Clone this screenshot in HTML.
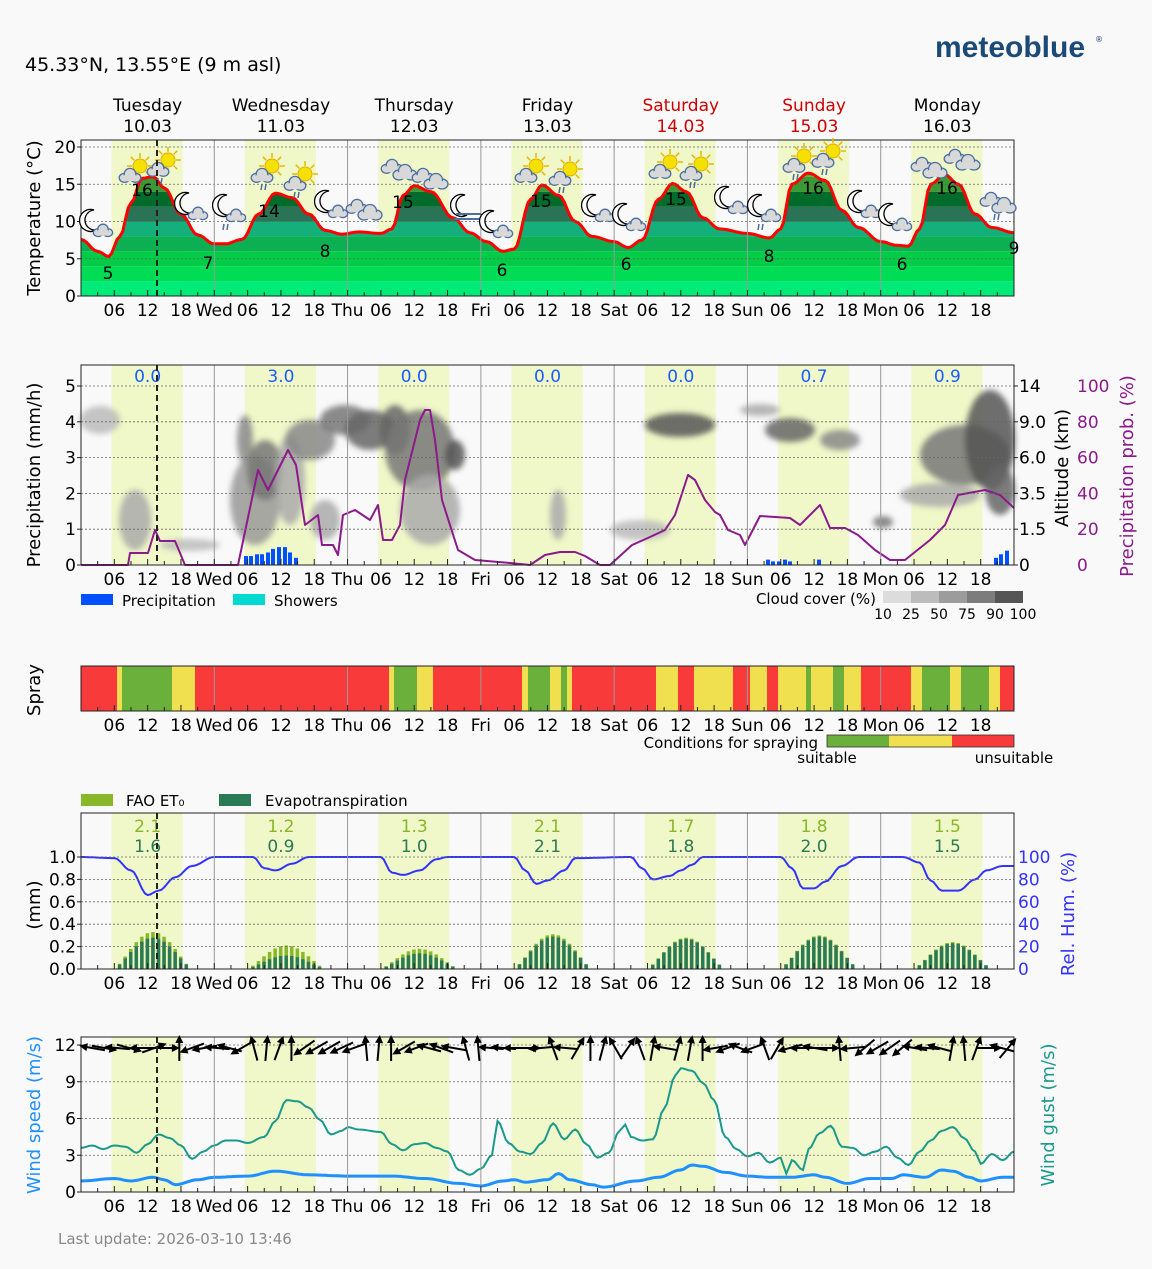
<!DOCTYPE html>
<html><head><meta charset="utf-8"><style>
html,body{margin:0;padding:0;background:#f9f9f9;}
svg{display:block;font-family:"DejaVu Sans","Liberation Sans",sans-serif;}
</style></head><body>
<svg id="s" width="1152" height="1269" xmlns="http://www.w3.org/2000/svg"></svg>
<script>
const S=document.getElementById('s');let o='';
const X0=81,X1=1014,W=X1-X0;const X=h=>X0+h*W/168;
function interp(pts,h){for(let i=0;i<pts.length-1;i++){if(h>=pts[i][0]&&h<=pts[i+1][0]){const t=(h-pts[i][0])/(pts[i+1][0]-pts[i][0]);const s=(1-Math.cos(Math.PI*t))/2;return pts[i][1]+(pts[i+1][1]-pts[i][1])*s;}}return pts[pts.length-1][1];}
function path(pts,yf,step){let d='';for(let h=0;h<=168;h+=step){d+=(h?'L':'M')+X(h).toFixed(1)+','+yf(interp(pts,h)).toFixed(1);}return d;}
function txt(x,y,t,sz,fill,anchor,extra){o+=`<text x="${x}" y="${y}" font-size="${sz}" fill="${fill||'#000'}" text-anchor="${anchor||'start'}" ${extra||''}>${t}</text>`;}
const days=[['Tuesday','10.03'],['Wednesday','11.03'],['Thursday','12.03'],['Friday','13.03'],['Saturday','14.03'],['Sunday','15.03'],['Monday','16.03']];
const dn=['','Wed','Thu','Fri','Sat','Sun','Mon'];
txt(25,71,'45.33°N, 13.55°E (9 m asl)',19);
txt(935,57,'meteoblue',30,'#1c4a78','start','font-weight="bold" font-family="Liberation Sans,sans-serif"');
txt(1095,42,'®',8,'#1c4a78');
days.forEach((d,i)=>{const c=X(i*24+12);const col=(i==4||i==5)?'#d00000':'#000';txt(c,111,d[0],17,col,'middle');txt(c,132,d[1],17,col,'middle');});
function panel(y0,y1){
 o+=`<rect x="${X0}" y="${y0}" width="${W}" height="${y1-y0}" fill="#f9f9f9"/>`;
 for(let d=0;d<7;d++){o+=`<rect x="${X(d*24+5.5)}" y="${y0}" width="${X(18.3)-X(5.5)}" height="${y1-y0}" fill="#f0f7c8"/>`;}
}
function frame(y0,y1,grid){
 grid.forEach(g=>o+=`<line x1="${X0}" x2="${X1}" y1="${g}" y2="${g}" stroke="#666" stroke-width="0.8" stroke-dasharray="2,2"/>`);
 for(let d=1;d<7;d++)o+=`<line x1="${X(d*24)}" x2="${X(d*24)}" y1="${y0}" y2="${y1}" stroke="#999" stroke-width="1"/>`;
 o+=`<rect x="${X0}" y="${y0}" width="${W}" height="${y1-y0}" fill="none" stroke="#222" stroke-width="1"/>`;
 for(let h=3;h<168;h+=3){o+=`<line x1="${X(h)}" x2="${X(h)}" y1="${y1}" y2="${y1-(h%6?4:6)}" stroke="#222"/>`;}
 for(let h=6;h<168;h+=6){const d=h%24==0;txt(X(h),y1+20,d?dn[h/24]:String(h%24).padStart(2,'0'),17,'#000','middle');}
}
function nowline(y0,y1){o+=`<line x1="157" x2="157" y1="${y0}" y2="${y1}" stroke="#222" stroke-width="2" stroke-dasharray="6,4"/>`;}
function rot(x,y,t,sz,col){o+=`<text x="${x}" y="${y}" font-size="${sz}" fill="${col||'#000'}" text-anchor="middle" transform="rotate(-90 ${x} ${y})">${t}</text>`;}
// ===== Temperature
const TY=t=>296-t*7.45;
panel(140,296);
const tp=[[0,7.6],[3,6],[5,5.3],[7,8],[9,12.5],[11,15.8],[13,16],[15,14.5],[18,11],[21,8.2],[24,7],[26,7],[29,7.6],[32,11],[35,13.8],[38,13.2],[41,11],[44,8.8],[47,8.3],[50,8.6],[54,8.4],[56,9],[58,13.5],[60,14.8],[63,14],[67,10.5],[70,8.5],[73,7.3],[76,6],[78,6.3],[81,13],[83,14.9],[86,13.5],[89,10],[92,8],[96,7.3],[98.5,6.5],[101,7.5],[104,13],[106.5,15.1],[109,14],[112,10.5],[115,9],[120,8.4],[124,7.8],[126,9],[128,15],[131,16.5],[134,15.5],[137,11.5],[140,9.2],[144,7.3],[147,6.8],[149,6.7],[151,9],[153,15],[155.5,16.3],[158,15],[161,11],[164,9.2],[168,8.5]];
const td=path(tp,TY,0.5);
o+=`<clipPath id="tc"><path d="${td}L${X1},296L${X0},296Z"/></clipPath><g clip-path="url(#tc)">`;
const tb=[[0,2,'#00ea78'],[2,4,'#00dd55'],[4,6,'#00cc48'],[6,8,'#0cb052'],[8,10,'#14b07c'],[10,12,'#2b7356'],[12,14,'#006c2c'],[14,16,'#3a9a34'],[16,20,'#5aaa30']];
tb.forEach(b=>o+=`<rect x="${X0}" y="${TY(b[1])}" width="${W}" height="${TY(b[0])-TY(b[1])}" fill="${b[2]}"/>`);
o+=`</g><path d="${td}" fill="none" stroke="#f00" stroke-width="3"/>`;
frame(140,296,[TY(5),TY(10),TY(15),TY(20)]);
[[0,TY(0)],[5,TY(5)],[10,TY(10)],[15,TY(15)],[20,TY(20)]].forEach(a=>{txt(76,a[1]+6,a[0],17,'#000','end');o+=`<line x1="77" x2="81" y1="${a[1]}" y2="${a[1]}" stroke="#222"/>`;});
rot(40,218,'Temperature (°C)',18);
[[108,279,5],[142,196,16],[208,269,7],[269,217,14],[325,257,8],[403,208,15],[502,276,6],[541,207,15],[626,270,6],[676,205,15],[769,262,8],[813,194,16],[902,270,6],[947,194,16],[1014,254,9]].forEach(a=>txt(a[0],a[1],a[2],17,'#000','middle'));
function sun(x,y){o+=`<g stroke="#e8b800" stroke-width="1.5">`;for(let a=0;a<8;a++){const r=a*Math.PI/4;o+=`<line x1="${x+Math.cos(r)*8}" y1="${y+Math.sin(r)*8}" x2="${x+Math.cos(r)*13}" y2="${y+Math.sin(r)*13}"/>`;}o+=`</g><circle cx="${x}" cy="${y}" r="7" fill="#f5e000" stroke="#e0b000"/>`;}
function cloud(x,y,s){s=s||1;o+=`<g fill="#d8d8d8" stroke="#4a6fa0" stroke-width="1.3"><ellipse cx="${x-6*s}" cy="${y+2*s}" rx="${6*s}" ry="${5*s}"/><ellipse cx="${x+6*s}" cy="${y+2*s}" rx="${6*s}" ry="${5*s}"/><circle cx="${x}" cy="${y-2*s}" r="${6.5*s}"/></g><ellipse cx="${x}" cy="${y+2*s}" rx="${9*s}" ry="${4*s}" fill="#d8d8d8"/>`;}
function moon(x,y){o+=`<path d="M${x+4},${y-11} A11,11 0 1,0 ${x+6},${y+9} A9,9 0 1,1 ${x+4},${y-11}Z" fill="#fff" stroke="#000" stroke-width="1.3"/>`;}
function rain(x,y){o+=`<line x1="${x-2}" y1="${y}" x2="${x-3}" y2="${y+6}" stroke="#4a6fa0" stroke-width="1.5"/><line x1="${x+2}" y1="${y}" x2="${x+1}" y2="${y+6}" stroke="#4a6fa0" stroke-width="1.5"/>`;}
const ic=[['m',95,225,0],['s',134,170,0],['s',162,164,1],['m',190,208,0],['m',228,210,1],['s',266,170,1],['s',299,178,1],['m',330,206,0],['c',365,207,0],['c',400,167,0],['c',431,176,0],['f',466,210,0],['m',495,226,0],['s',530,170,0],['s',564,173,1],['m',597,210,0],['m',628,219,0],['s',664,166,0],['s',695,168,1],['m',730,202,0],['m',763,210,1],['s',798,160,1],['s',827,155,1],['m',863,206,0],['m',894,219,0],['c',930,165,0],['c',963,157,0],['c',999,200,1]];
ic.forEach(c=>{if(c[0]=='m'){moon(c[1]-5,c[2]-4);cloud(c[1]+8,c[2]+6,0.8);}else if(c[0]=='s'){sun(c[1]+6,c[2]-4);cloud(c[1]-4,c[2]+6,0.9);}else if(c[0]=='c'){cloud(c[1]-8,c[2],0.9);cloud(c[1]+5,c[2]+6,1);}else{moon(c[1]-5,c[2]-4);o+=`<g stroke="#4a6fa0" stroke-width="2"><line x1="${c[1]-10}" x2="${c[1]+15}" y1="${c[2]+4}" y2="${c[2]+4}"/><line x1="${c[1]-12}" x2="${c[1]+15}" y1="${c[2]+9}" y2="${c[2]+9}"/></g>`;}if(c[3])rain(c[1]-2,c[2]+14);});
nowline(140,296);
// ===== Precip
const PY=v=>565-v*35.8;
panel(365,565);
o+=`<defs><filter id="bl" x="-20%" y="-20%" width="140%" height="140%"><feGaussianBlur stdDeviation="3"/></filter></defs><g filter="url(#bl)">`;
const bl=[[100,420,20,14,'#bbb'],[135,520,16,30,'#aaa'],[190,545,30,6,'#bbb'],[245,440,8,25,'#888'],[255,500,25,45,'#999'],[265,470,18,30,'#777'],[290,480,15,45,'#aaa'],[310,440,25,20,'#888'],[345,420,25,15,'#777'],[370,430,25,20,'#666'],[395,430,15,25,'#666'],[420,450,35,40,'#777'],[430,510,30,35,'#aaa'],[455,455,10,15,'#555'],[325,520,15,20,'#aaa'],[558,515,8,25,'#aaa'],[640,530,30,10,'#bbb'],[680,425,35,12,'#555'],[760,410,20,6,'#aaa'],[790,430,25,12,'#666'],[840,440,20,10,'#888'],[883,522,10,6,'#777'],[965,455,45,30,'#777'],[990,440,25,50,'#555'],[940,495,40,12,'#aaa'],[1000,490,15,25,'#666']];
bl.forEach(b=>o+=`<ellipse cx="${b[0]}" cy="${b[1]}" rx="${b[2]}" ry="${b[3]}" fill="${b[4]}" opacity="0.85"/>`);
o+=`</g>`;
[[246,0.25],[251,0.25],[257,0.3],[262,0.3],[268,0.35],[273,0.45],[279,0.5],[285,0.5],[290,0.35],[296,0.2],[768,0.15],[773,0.1],[779,0.1],[785,0.15],[790,0.1],[819,0.15],[996,0.2],[1001,0.3],[1007,0.4]].forEach(b=>o+=`<rect x="${b[0]-2}" y="${PY(b[1])}" width="4" height="${b[1]*35.8}" fill="#0050ff"/>`);
const ppx=[[81,565],[128,565],[130,553],[148,553],[155,530],[160,541],[175,541],[185,565],[238,565],[258,470],[268,490],[288,450],[296,465],[305,525],[318,515],[322,545],[333,545],[338,555],[343,515],[355,510],[370,520],[378,505],[383,540],[392,540],[400,525],[405,480],[420,420],[425,410],[430,410],[435,440],[442,500],[458,550],[475,560],[510,563],[530,565],[545,555],[560,552],[575,552],[585,556],[600,565],[610,565],[632,545],[650,537],[665,530],[675,515],[688,475],[695,480],[705,500],[715,512],[720,515],[728,530],[740,535],[745,545],[760,516],[790,518],[800,525],[820,505],[830,528],[845,528],[858,535],[875,550],[890,560],[905,560],[915,552],[930,540],[945,525],[958,495],[985,490],[1000,495],[1014,508]];
let pd='';ppx.forEach((p,i)=>pd+=(i?'L':'M')+p[0]+','+p[1]);
o+=`<path d="${pd}" fill="none" stroke="#8b1a8b" stroke-width="2" stroke-linejoin="round"/>`;
frame(365,565,[PY(1),PY(2),PY(3),PY(4),PY(5)]);
for(let v=0;v<=5;v++){txt(76,PY(v)+6,v,17,'#000','end');o+=`<line x1="77" x2="81" y1="${PY(v)}" y2="${PY(v)}" stroke="#222"/>`;}
['0','1.5','3.5','6.0','9.0','14'].forEach((t,i)=>{txt(1019,PY(i)+6,t,17);o+=`<line x1="1014" x2="1018" y1="${PY(i)}" y2="${PY(i)}" stroke="#222"/>`;});
[0,20,40,60,80,100].forEach((t,i)=>txt(1077,PY(i)+6,t,17,'#8b1a8b'));
rot(40,475,'Precipitation (mm/h)',18);rot(1068,468,'Altitude (km)',18);rot(1133,476,'Precipitation prob. (%)',18,'#8b1a8b');
['0.0','3.0','0.0','0.0','0.0','0.7','0.9'].forEach((t,i)=>txt(X(i*24+12),382,t,17,'#1a5cff','middle'));
nowline(365,565);
o+=`<rect x="81" y="594" width="32" height="11" fill="#0050ff"/>`;txt(122,606,'Precipitation',15);
o+=`<rect x="233" y="594" width="32" height="11" fill="#00d8d0"/>`;txt(274,606,'Showers',15);
txt(876,604,'Cloud cover (%)',15,'#000','end');
['#dcdcdc','#bcbcbc','#9c9c9c','#7c7c7c','#555'].forEach((c,i)=>o+=`<rect x="${883+i*28}" y="591" width="28" height="12" fill="${c}"/>`);
['10','25','50','75','90','100'].forEach((t,i)=>txt(883+i*28,619,t,14,'#000','middle'));
// ===== Spray
const sp=[[81,117,'r'],[117,122,'y'],[122,172,'g'],[172,195,'y'],[195,389,'r'],[389,394,'y'],[394,417,'g'],[417,433,'y'],[433,522,'r'],[522,528,'y'],[528,550,'g'],[550,561,'y'],[561,567,'g'],[567,572,'y'],[572,656,'r'],[656,678,'y'],[678,694,'r'],[694,733,'y'],[733,750,'r'],[750,767,'y'],[767,778,'r'],[778,806,'y'],[806,811,'g'],[811,833,'y'],[833,844,'g'],[844,861,'y'],[861,911,'r'],[911,922,'y'],[922,950,'g'],[950,961,'y'],[961,989,'g'],[989,1000,'y'],[1000,1014,'r']];
const sc={r:'#f83a3a',y:'#f0e050',g:'#6ab03a'};
sp.forEach(s=>o+=`<rect x="${s[0]}" y="666" width="${s[1]-s[0]}" height="45" fill="${sc[s[2]]}"/>`);
frame(666,711,[]);
rot(40,690,'Spray',18);
txt(818,748,'Conditions for spraying',15,'#000','end');
o+=`<rect x="827" y="735" width="62" height="12" fill="#6ab03a"/><rect x="889" y="735" width="63" height="12" fill="#f0e050"/><rect x="952" y="735" width="62" height="12" fill="#f83a3a"/><rect x="827" y="735" width="187" height="12" fill="none" stroke="#333" stroke-width="0.8"/>`;
txt(827,763,'suitable',15,'#000','middle');txt(1014,763,'unsuitable',15,'#000','middle');
// ===== ET
const EY=v=>969-v*112;
panel(813,969);
const pk=[[0.33,0.28],[0.21,0.12],[0.18,0.14],[0.31,0.29],[0.28,0.27],[0.3,0.29],[0.24,0.23]];
for(let d=0;d<7;d++){for(let h=7;h<=19;h++){const f=Math.max(0,Math.sin(Math.PI*(h-6)/14));const a=pk[d][0]*Math.pow(f,1.3),b=pk[d][1]*Math.pow(f,1.3);const x=X(d*24+h);o+=`<rect x="${x-2}" y="${EY(a)}" width="3.5" height="${a*112}" fill="#88b82a"/><rect x="${x-2}" y="${EY(b)}" width="3.5" height="${b*112}" fill="#2a7a55"/>`;}}
const rh=[[0,100],[6,99],[9,88],[12,66],[14,70],[17,82],[20,92],[24,100],[31,100],[33,90],[35,88],[38,94],[41,100],[54,100],[56,86],[58,84],[61,88],[64,98],[66,100],[78,100],[80,88],[82,76],[84,79],[87,88],[89,99],[99,100],[101,90],[103,80],[106,83],[108,88],[110,93],[112,100],[126,100],[128,90],[130,72],[132,72],[134,78],[137,92],[140,100],[148,100],[151,95],[153,79],[155,70],[158,70],[161,80],[163,88],[166,92],[168,92]];
o+=`<path d="${path(rh,v=>969-v*1.12,0.5)}" fill="none" stroke="#3333ff" stroke-width="2"/>`;
frame(813,969,[EY(0.2),EY(0.4),EY(0.6),EY(0.8),EY(1.0)]);
['0.0','0.2','0.4','0.6','0.8','1.0'].forEach((t,i)=>{txt(76,EY(i*0.2)+6,t,17,'#000','end');o+=`<line x1="77" x2="81" y1="${EY(i*.2)}" y2="${EY(i*.2)}" stroke="#222"/>`;});
[0,20,40,60,80,100].forEach((t,i)=>txt(1018,EY(i*.2)+6,t,17,'#3333ff'));
rot(40,905,'(mm)',18);rot(1074,914,'Rel. Hum. (%)',18,'#3333ff');
[['2.1','1.6'],['1.2','0.9'],['1.3','1.0'],['2.1','2.1'],['1.7','1.8'],['1.8','2.0'],['1.5','1.5']].forEach((v,i)=>{txt(X(i*24+12),832,v[0],17,'#88b82a','middle');txt(X(i*24+12),852,v[1],17,'#2a7a55','middle');});
o+=`<rect x="81" y="794" width="32" height="12" fill="#88b82a"/>`;txt(126,806,'FAO ET₀',15);
o+=`<rect x="219" y="794" width="32" height="12" fill="#2a7a55"/>`;txt(265,806,'Evapotranspiration',15);
nowline(813,969);
// ===== Wind
const WY=v=>1192-v*12.25;
panel(1037,1192);
const gu=[[0,3.6],[2,3.8],[4,3.5],[6,3.8],[8,3.7],[10,3.2],[12,3.9],[14,4.7],[16,4.4],[18,3.8],[20,2.7],[22,3.3],[24,3.8],[26,4.2],[28,4.2],[30,4.0],[33,4.5],[35,5.8],[37,7.5],[39,7.4],[41,6.9],[43,5.9],[45,4.7],[47,5.0],[48,5.3],[50,5.1],[54,4.9],[56,3.9],[58,3.4],[60,3.9],[62,4.0],[64,3.6],[66,3.3],[68,1.8],[70,1.4],[72,1.9],[74,3],[75,5.8],[77,4],[79,3.3],[81,3.1],[83,4],[85,5.6],[87,4.3],[89,5.1],[91,3.9],[93,2.8],[95,3.2],[97,5],[98,5.5],[99,4.5],[101,4.2],[103,4.3],[105,6.8],[107,9.5],[108,10.1],[110,9.9],[112,8.9],[114,7.5],[116,4.5],[118,3.5],[120,2.9],[122,3.2],[124,2.4],[126,2.8],[127,1.5],[128,2.6],[130,1.8],[131,3.5],[133,4.8],[135,5.4],[137,3.7],[139,3.6],[141,3.0],[143,3.3],[145,3.7],[147,2.8],[149,2.2],[151,3.3],[153,4.2],[155,5.0],[157,5.3],[159,4.4],[161,3.3],[162,2.3],[164,3.1],[166,2.6],[168,3.3]];
const ws=[[0,0.9],[6,1.1],[9,0.9],[13,1.2],[15,1],[17,0.6],[21,1],[24,1.2],[30,1.3],[35,1.7],[41,1.4],[48,1.3],[56,1.3],[62,1.1],[68,0.7],[72,0.5],[76,0.9],[78,1],[80,0.8],[84,1],[86,1.5],[88,1],[92,0.6],[94,0.4],[100,0.9],[104,1.2],[108,1.8],[110,2.2],[112,2.1],[116,1.6],[120,1.3],[124,1.2],[128,1.2],[132,1.4],[134,1.2],[138,0.7],[142,1.1],[146,1.1],[148,1.4],[152,1.2],[155,1.8],[157,1.7],[160,1.2],[162,0.9],[166,1.2],[168,1.2]];
o+=`<path d="${path(gu,WY,0.5)}" fill="none" stroke="#1a9a8c" stroke-width="2"/>`;
o+=`<path d="${path(ws,WY,0.5)}" fill="none" stroke="#1e90ff" stroke-width="3"/>`;
frame(1037,1192,[WY(3),WY(6),WY(9),WY(12)]);
[0,3,6,9,12].forEach(v=>{txt(76,WY(v)+6,v,17,'#000','end');o+=`<line x1="77" x2="81" y1="${WY(v)}" y2="${WY(v)}" stroke="#222"/>`;});
rot(40,1115,'Wind speed (m/s)',18,'#1e90ff');rot(1054,1115,'Wind gust (m/s)',18,'#1a9a8c');
const ar=[190,10,185,15,180,-20,0,-90,160,170,185,195,150,-105,-85,-70,-90,145,150,150,155,160,-95,-85,-90,150,160,195,200,190,-105,-95,185,185,180,0,175,-110,185,-60,-90,-75,-120,-55,-110,-80,190,-75,-80,-90,170,160,200,160,-110,-60,165,180,190,0,-95,175,140,150,145,140,190,185,195,-80,-95,-70,0,195,-50];
const n=ar.length;
ar.forEach((a,i)=>{const cx=X(2+i*(166/(n-1)))+(i==n-1?-6:0);const cy=1048;const r=a*Math.PI/180;const L=13;const dx=Math.cos(r)*L,dy=Math.sin(r)*L;const x1=cx-dx,y1=cy-dy,x2=cx+dx,y2=cy+dy;const hx=Math.cos(r),hy=Math.sin(r);o+=`<line x1="${x1}" y1="${y1}" x2="${x2-hx*5}" y2="${y2-hy*5}" stroke="#000" stroke-width="2"/><polygon points="${x2},${y2} ${x2-hx*8-hy*4},${y2-hy*8+hx*4} ${x2-hx*8+hy*4},${y2-hy*8-hx*4}" fill="#000"/>`;});
nowline(1037,1192);
txt(58,1244,'Last update: 2026-03-10 13:46',15,'#888');
S.innerHTML=o;
</script>
</body></html>
